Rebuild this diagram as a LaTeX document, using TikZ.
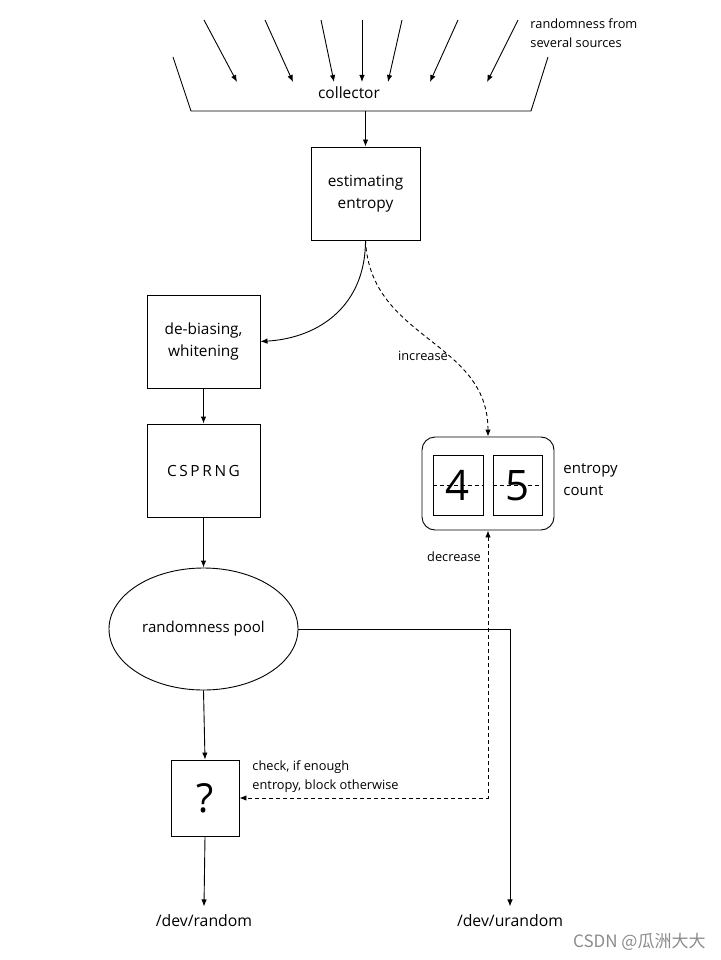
\documentclass[tikz,border=0pt]{standalone}
\usepackage{fontspec}
\setmainfont{Open Sans}
\newfontfamily\cjkfont{Noto Sans CJK SC}
\usetikzlibrary{arrows.meta,shapes.geometric}
\begin{document}
\begin{tikzpicture}[x=1pt,y=-1pt,line width=0.9pt,
  >={Latex[length=7pt,width=5.5pt]},
  lbl/.style={font=\fontsize{15.4}{21.5}\selectfont,align=center},
  small/.style={font=\fontsize{12.8}{19}\selectfont,align=left},
  blk/.style={draw,inner sep=0pt,minimum width=113pt,minimum height=93pt,lbl},
  digit/.style={draw,inner sep=0pt,minimum width=50pt,minimum height=60pt,font=\fontsize{42}{42}\selectfont},
  dconn/.style={dash pattern=on 4pt off 3pt},
  outlbl/.style={font=\fontsize{15.8}{18}\selectfont,inner xsep=0pt,inner ysep=8pt}]
\useasboundingbox[fill=white] (0,0) rectangle (720,960);

% sources
\coordinate (s1) at (204,20); \coordinate (t1) at (237,82);
\coordinate (s2) at (265,20); \coordinate (t2) at (293,82);
\coordinate (s3) at (321,20); \coordinate (t3) at (334,82);
\coordinate (s4) at (362,20); \coordinate (t4) at (362,82);
\coordinate (s5) at (402,20); \coordinate (t5) at (388,82);
\coordinate (s6) at (458,20); \coordinate (t6) at (430,82);
\coordinate (s7) at (518,20); \coordinate (t7) at (487,82);
\foreach \i in {1,...,7} {\draw[->] (s\i) -- (t\i);}
\node[small,anchor=west,inner sep=0pt] (src) at (530,33.5) {randomness from\\several sources};

% collector
\coordinate (c1) at (173,57); \coordinate (c2) at (191,111);
\coordinate (c3) at (531,111); \coordinate (c4) at (548,57);
\coordinate (cb) at (365.5,111);
\draw (c1) -- (c2) -- (c3) -- (c4);
\node[font=\fontsize{15.5}{20}\selectfont] (col) at (349,93) {collector};

% boxes
\node[blk,minimum width=109pt] (est) at (365.5,193.5) {estimating\\entropy};
\node[blk] (deb) at (203.5,341.5) {de-biasing,\\whitening};
\node[blk] (csp) at (203.5,470.5) {\addfontfeature{LetterSpace=17}CSPRNG};
\node[draw,ellipse,inner sep=0pt,minimum width=189pt,minimum height=122pt,font=\fontsize{15}{21}\selectfont] (pool) at (203.5,629) {randomness pool};
\node[draw,inner sep=0pt,minimum width=68pt,minimum height=76pt,font=\fontsize{40}{40}\selectfont] (q) at (205,798) {?};

% entropy count
\node[draw,rounded corners=13pt,minimum width=132pt,minimum height=93pt] (cnt) at (488,483.5) {};
\node[digit] (d4) at (458,485.5) {4};
\node[digit,minimum width=49pt] (d5) at (517.5,485.5) {5};
\draw[dconn,line width=0.7pt] (d4.west) -- (d4.east);
\draw[dconn,line width=0.7pt] (d5.west) -- (d5.east);
\node[font=\fontsize{15}{22}\selectfont,align=left,anchor=west,inner sep=0pt] (ecl) at (563,480) {entropy\\count};

% labels
\node[small,fill=white,inner sep=1pt] (inc) at (423,356) {increase};
\node[small,inner sep=0pt] (dec) at (454,557) {decrease};
\node[small,anchor=west,inner sep=0pt] (chk) at (252,776.5) {check, if enough\\entropy, block otherwise};
\node[outlbl] (rnd) at (204,921) {/dev/random};
\node[outlbl] (urnd) at (510,921) {/dev/urandom};

% connectors
\draw[->] (cb) -- (est.north);
\draw[->] (est.south) .. controls (365.5,305) and (320,338) .. (deb.east);
\draw[->,dconn] (est.south) .. controls (370,340) and (488,340) .. (cnt.north);
\draw[->] (deb.south) -- (csp.north);
\draw[->] (csp.south) -- (pool.north);
\draw[->] (pool.south) -- (q.north);
\draw[->] (q.south) -- (rnd.north);
\draw[->] (pool.east) -| (urnd.north);
\draw[<->,dconn] (cnt.south) |- (q.east);

% watermark
\node[font=\cjkfont\fontsize{17}{17}\selectfont,text=black!45,anchor=east,inner sep=0pt] (wm) at (706,942) {CSDN @瓜洲大大};
\end{tikzpicture}
\end{document}
